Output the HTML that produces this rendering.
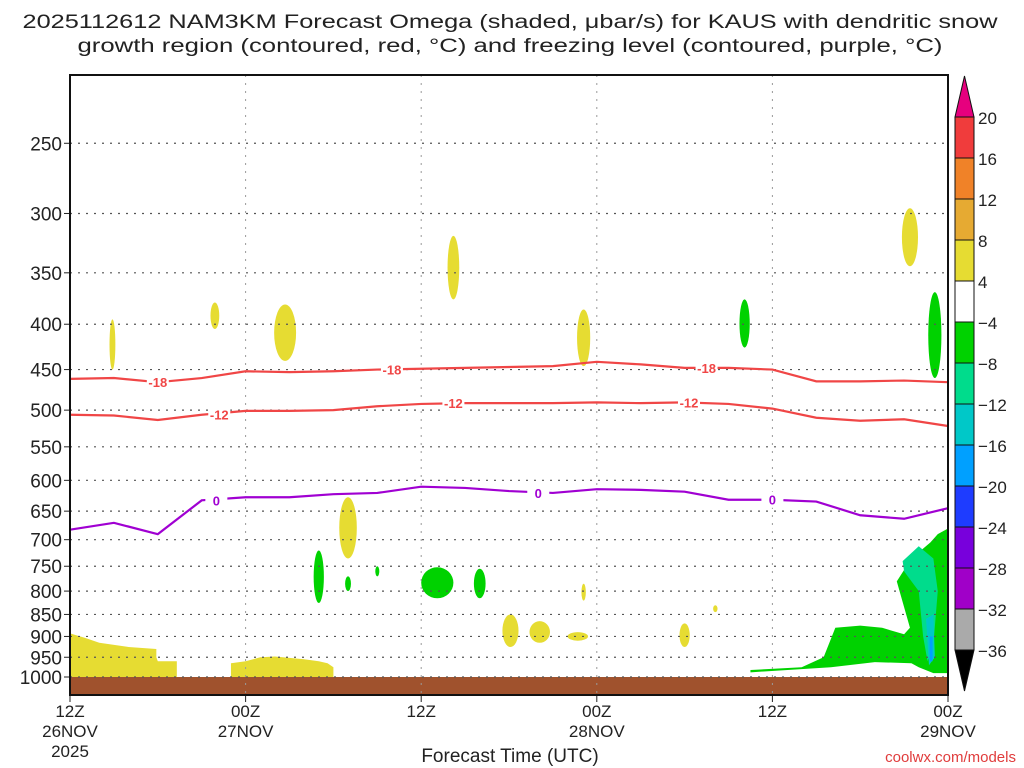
<!DOCTYPE html>
<html><head><meta charset="utf-8"><style>
body{margin:0;background:#fff;}
svg{display:block;font-family:"Liberation Sans",sans-serif;}
</style></head><body>
<svg id="c" width="1024" height="768"></svg>
<script>
const levels=[250,300,350,400,450,500,550,600,650,700,750,800,850,900,950,1000];
const timeTicks=[0,12,24,36,48,60];
const timeLabels=[["12Z","26NOV","2025"],["00Z","27NOV"],["12Z"],["00Z","28NOV"],["12Z"],["00Z","29NOV"]];
const lineHours=[0,3,6,9,12,15,18,21,24,27,30,33,36,39,42,45,48,51,54,57,60];
const dgzWarm=[506,507,513,506,501,501,500,495,492,491,491,491,490,491,490,492,498,510,514,512,521];
const dgzCold=[461,460,465,460,452,453,452,450,449,448,447,446,441,444,448,448,450,464,464,463,465];
const freezing=[682,670,690,632,627,627,622,620,610,612,617,620,614,615,618,631,631,634,657,663,645];
const cbValues=[20,16,12,8,4,-4,-8,-12,-16,-20,-24,-28,-32,-36];
const cbColors=["#f03c3c","#f08228","#e6aa32","#e6dc32","#ffffff","#00d200","#00dc8c","#00c8c8","#00a0ff","#1e3cff","#7800dc","#a000c8","#aaaaaa"];
// omega blobs: [hourCenter, pTop, pBottom, halfWidthHours, colorIndex]
const blobs=[[2.9,395,450,0.2,3],[9.9,378,405,0.3,3],[14.7,380,440,0.75,3],[26.2,318,375,0.4,3],[35.1,385,446,0.45,3],[57.4,296,344,0.55,3],
[19,627,735,0.6,3],[35.1,785,820,0.15,3],[30.1,850,925,0.55,3],[32.1,865,915,0.7,3],[34.7,890,910,0.7,3],[42,870,925,0.35,3],[44.1,830,845,0.15,3],
[46.1,375,425,0.35,5],[59.1,368,460,0.45,5],[17,720,825,0.35,5],[19,770,800,0.2,5],[21,750,770,0.12,5],[25.1,752,815,1.1,5],[28,755,815,0.4,5]];
const X=h=>70+h*(878/60);
const Y=p=>677-385*Math.log(1000/p);
const svg=document.getElementById('c');const NS='http://www.w3.org/2000/svg';
function mk(t,a,p){const e=document.createElementNS(NS,t);for(const k in a)e.setAttribute(k,a[k]);(p||svg).appendChild(e);return e;}
let t=mk('text',{x:510,y:28,'text-anchor':'middle','font-size':19,fill:'#222',textLength:975,lengthAdjust:'spacingAndGlyphs'});t.textContent='2025112612 NAM3KM Forecast Omega (shaded, μbar/s) for KAUS with dendritic snow';


t=mk('text',{x:510,y:52,'text-anchor':'middle','font-size':19,fill:'#222',textLength:865,lengthAdjust:'spacingAndGlyphs'});t.textContent='growth region (contoured, red, °C) and freezing level (contoured, purple, °C)';


const g=mk('g',{});


blobs.forEach(b=>{const cy=(Y(b[1])+Y(b[2]))/2,ry=(Y(b[2])-Y(b[1]))/2;
const e=mk('ellipse',{cx:X(b[0]),cy:cy,rx:Math.max(2,b[3]*14.63),ry:ry,fill:cbColors[b[4]]},g);

});
function poly(pts,c,n){const e=mk('polygon',{points:pts.map(q=>X(q[0])+','+Y(q[1])).join(' '),fill:c},g);

}
poly([[0,1000],[0,893],[1,903],[2,915],[4,925],[5.9,930],[5.9,950],[6,960],[7.3,960],[7.3,1000]],cbColors[3],'low-level-lift-left');
poly([[11,1000],[11,965],[12,960],[13,950],[14,948],[16,955],[17,960],[17.6,965],[18,975],[18,1000]],cbColors[3],'low-level-lift-center');
poly([[46.5,982],[50,975],[51.5,950],[52.3,880],[54,875],[55.5,880],[57,895],[57.4,880],[56.5,780],[57.5,735],[58.8,705],[59.3,690],[60,680],[60,990],[59,990],[58,975],[57.5,965],[55,962],[52,975],[46.5,988]],cbColors[5],'low-level-sink-right');
poly([[57,760],[56.9,740],[58,712],[59,735],[59.3,800],[59,920],[58.6,960],[58.3,900],[58,800]],cbColors[6],'sink-core-teal');
poly([[58.5,860],[59,850],[59.1,950],[58.7,970]],cbColors[7],'sink-core-cyan');
poly([[58.75,900],[58.95,900],[58.95,960],[58.75,960]],cbColors[8],'sink-core-blue');
let s=mk('rect',{x:70,y:677,width:878,height:18,fill:'#a0522d'});


levels.forEach(p=>{const l=mk('line',{x1:70,x2:948,y1:Y(p),y2:Y(p),stroke:'#555','stroke-dasharray':'2,6','stroke-width':1.2});


const tk=mk('line',{x1:64,x2:70,y1:Y(p),y2:Y(p),stroke:'#222'});


const tx=mk('text',{x:62,y:Y(p)+7,'text-anchor':'end','font-size':19,fill:'#222'});tx.textContent=p;

});
timeTicks.forEach((h,i)=>{const l=mk('line',{x1:X(h),x2:X(h),y1:75,y2:695,stroke:'#999','stroke-dasharray':'2,6'});


const tk=mk('line',{x1:X(h),x2:X(h),y1:695,y2:702,stroke:'#222'});


timeLabels[i].forEach((s2,j)=>{const tx=mk('text',{x:X(h),y:717+j*20,'text-anchor':'middle','font-size':17,fill:'#222'});tx.textContent=s2;

});});
function contour(arr,color,lab,labHours,name){const d=arr.map((p,i)=>(i?'L':'M')+X(lineHours[i])+','+Y(p)).join(' ');
const e=mk('path',{d:d,fill:'none',stroke:color,'stroke-width':2.2});


labHours.forEach(h=>{const i=Math.round(h/3);const x=X(h),y=Y(arr[i]);mk('rect',{x:x-11,y:y-8,width:22,height:16,fill:'#fff'});
const tx=mk('text',{x:x,y:y+5,'text-anchor':'middle','font-size':13,'font-weight':'bold',fill:color});tx.textContent=lab;

});}
contour(dgzCold,'#f04646','-18',[6,22,43.5],'minus18-contour');
contour(dgzWarm,'#f04646','-12',[10.2,26.2,42.3],'minus12-contour');
contour(freezing,'#a000d2','0',[10,32,48],'freezing-level-contour');
let f=mk('rect',{x:70,y:75,width:878,height:620,fill:'none',stroke:'#111','stroke-width':2});


t=mk('text',{x:510,y:762,'text-anchor':'middle','font-size':19,fill:'#222'});t.textContent='Forecast Time (UTC)';


t=mk('text',{x:1016,y:762,'text-anchor':'end','font-size':15,fill:'#e03c3c'});t.textContent='coolwx.com/models';


const cb=mk('g',{});


const seg=41,cbTop=117,cx0=955,cw=19;
mk('polygon',{points:`${cx0},${cbTop} ${cx0+cw},${cbTop} ${cx0+cw/2},76`,fill:'#e6007e',stroke:'#111'},cb);
cbColors.forEach((c,i)=>{const r=mk('rect',{x:cx0,y:cbTop+i*seg,width:cw,height:seg,fill:c,stroke:'#111'},cb);

});
mk('polygon',{points:`${cx0},${cbTop+13*seg} ${cx0+cw},${cbTop+13*seg} ${cx0+cw/2},691`,fill:'#000',stroke:'#111'},cb);
cbValues.forEach((v,i)=>{const tx=mk('text',{x:978,y:cbTop+i*seg+7,'font-size':17,fill:'#222'},cb);tx.textContent=(v<0?'−':'')+Math.abs(v);

});
</script>
</body></html>
